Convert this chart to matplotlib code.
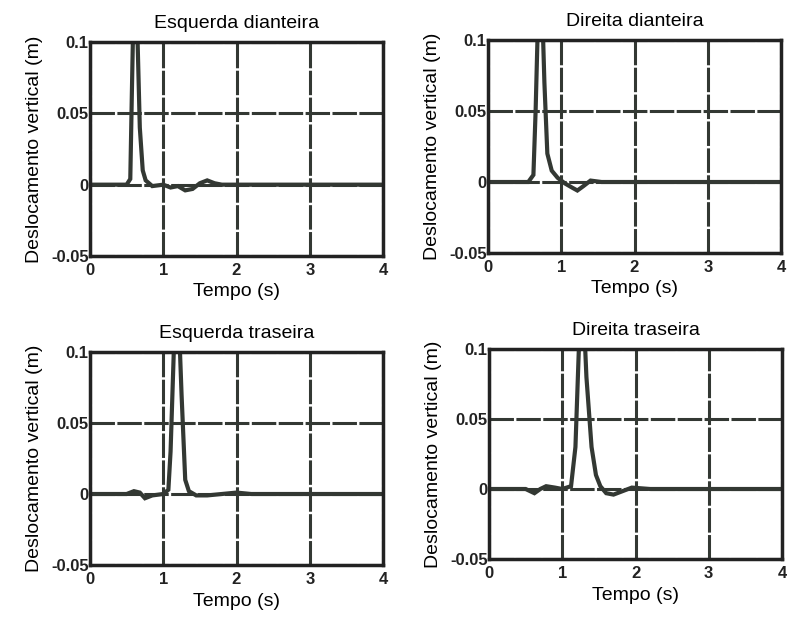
import matplotlib
matplotlib.use('Agg')
import matplotlib.pyplot as plt

plt.rcParams['font.family'] = ['Liberation Sans', 'DejaVu Sans']

# dados (tempo em s, deslocamento em m)
titles = ['Esquerda dianteira', 'Direita dianteira', 'Esquerda traseira', 'Direita traseira']

t_ed = [0, 0.50, 0.55, 0.57, 0.60, 0.64, 0.68, 0.72, 0.76, 0.85, 1.0, 1.1, 1.2, 1.3, 1.4, 1.5, 1.6, 1.7, 1.8, 2.0, 2.5, 3.0, 4.0]
y_ed = [0, 0.000, 0.004, 0.060, 0.140, 0.120, 0.040, 0.010, 0.003, -0.001, 0.000, -0.002, -0.001, -0.004, -0.003, 0.001, 0.003, 0.001, 0.000, 0.000, 0.000, 0.000, 0.000]

t_dd = [0, 0.55, 0.62, 0.65, 0.69, 0.73, 0.77, 0.81, 0.87, 0.95, 1.05, 1.15, 1.22, 1.30, 1.40, 1.55, 2.0, 3.0, 4.0]
y_dd = [0, 0.000, 0.005, 0.050, 0.130, 0.140, 0.070, 0.020, 0.008, 0.003, -0.001, -0.004, -0.006, -0.003, 0.001, 0.000, 0.000, 0.000, 0.000]

t_et = [0, 0.50, 0.60, 0.68, 0.75, 0.85, 1.0, 1.07, 1.10, 1.15, 1.20, 1.25, 1.30, 1.35, 1.45, 1.6, 2.0, 2.2, 3.0, 4.0]
y_et = [0, 0.000, 0.002, 0.001, -0.003, -0.001, 0.000, 0.003, 0.030, 0.110, 0.140, 0.070, 0.010, 0.002, -0.001, -0.001, 0.001, 0.000, 0.000, 0.000]

t_dt = [0, 0.50, 0.62, 0.70, 0.78, 0.90, 1.0, 1.12, 1.18, 1.24, 1.28, 1.33, 1.40, 1.46, 1.52, 1.60, 1.70, 1.80, 1.95, 2.2, 3.0, 4.0]
y_dt = [0, 0.000, -0.003, 0.000, 0.002, 0.001, 0.000, 0.002, 0.030, 0.120, 0.140, 0.080, 0.030, 0.010, 0.002, -0.003, -0.004, -0.002, 0.001, 0.000, 0.000, 0.000]

series = [(t_ed, y_ed), (t_dd, y_dd), (t_et, y_et), (t_dt, y_dt)]

xticks = [0, 1, 2, 3, 4]
yticks = [-0.05, 0, 0.05, 0.1]
ytick_labels = ['-0.05', '0', '0.05', '0.1']

# posicoes dos eixos em pixels (esq, dir, topo, base)
boxes = [(90, 383, 42, 256), (488, 781, 40, 253), (90, 383, 352, 565), (489, 782, 349, 559)]

W, H = 787, 631
fig = plt.figure(figsize=(W / 100, H / 100), dpi=100)
line_col = '#333833'

for i in range(4):
    l, r, tp, b = boxes[i]
    ax = fig.add_axes([l / W, 1 - b / H, (r - l) / W, (b - tp) / H])
    t, y = series[i]
    ax.plot(t, y, color=line_col, lw=3.0, solid_joinstyle='miter')
    ax.set_xlim(0, 4)
    ax.set_ylim(-0.05, 0.1)
    ax.set_xticks(xticks)
    ax.set_yticks(yticks)
    ax.set_yticklabels(ytick_labels)
    ax.grid(True, color=line_col, lw=2.2, linestyle=(0, (8, 0.8)))
    ax.set_axisbelow(True)
    for s in ax.spines.values():
        s.set_linewidth(2.5)
        s.set_color('#222222')
    ax.tick_params(length=0, labelsize=12)
    ax.tick_params(axis='x', pad=5)
    ax.tick_params(axis='y', pad=1)
    for lab in ax.get_xticklabels() + ax.get_yticklabels():
        lab.set_fontweight('bold')
        lab.set_color('#222222')
    ax.set_title(titles[i], fontsize=14, pad=10)
    ax.set_xlabel('Tempo (s)', fontsize=14, labelpad=4)
    ax.set_ylabel('Deslocamento vertical (m)', fontsize=14, labelpad=6)

fig.savefig('out.png', dpi=100)
